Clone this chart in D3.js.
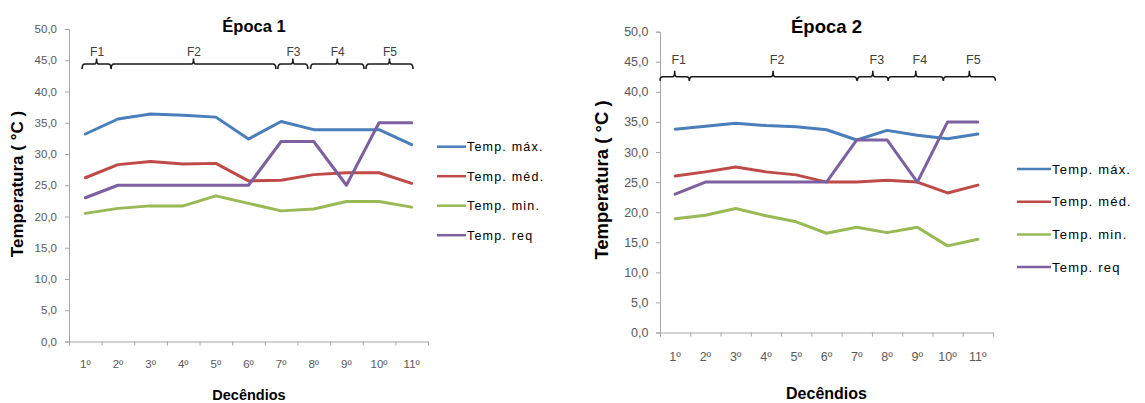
<!DOCTYPE html>
<html><head><meta charset="utf-8">
<script src="https://cdn.jsdelivr.net/npm/d3@7"></script>
<style>
html,body{margin:0;padding:0;background:#fff;}
svg{display:block;font-family:"Liberation Sans",Arial,sans-serif;}
</style></head>
<body>
<svg id="chart" width="1145" height="403"></svg>
<script>
// ---- data ----
const categories = ["1º","2º","3º","4º","5º","6º","7º","8º","9º","10º","11º"];
const yTickValues = [0,5,10,15,20,25,30,35,40,45,50];
const seriesNames = ["Temp. máx.","Temp. méd.","Temp. min.","Temp. req"];
const seriesColors = ["#4A7EBB","#BE4B48","#98B954","#7D60A0"];

const ep1Max = [33.2,35.6,36.4,36.2,35.9,32.4,35.2,33.9,33.9,33.9,31.5];
const ep1Med = [26.2,28.3,28.8,28.4,28.5,25.7,25.8,26.7,27.0,27.0,25.3];
const ep1Min = [20.5,21.3,21.7,21.7,23.3,22.1,20.9,21.2,22.4,22.4,21.5];
const ep1Req = [23.0,25.0,25.0,25.0,25.0,25.0,32.0,32.0,25.0,35.0,35.0];

const ep2Max = [33.8,34.3,34.8,34.4,34.2,33.7,32.0,33.6,32.8,32.2,33.0];
const ep2Med = [26.0,26.7,27.5,26.7,26.2,25.0,25.0,25.3,25.0,23.2,24.5];
const ep2Min = [18.9,19.5,20.6,19.4,18.4,16.5,17.5,16.6,17.5,14.4,15.5];
const ep2Req = [23.0,25.0,25.0,25.0,25.0,25.0,32.0,32.0,25.0,35.0,35.0];

const phaseLabels = ["F1","F2","F3","F4","F5"];
// phase bracket extents, in category-axis units (0 = left edge, 11 = right edge)
const ep1PhaseStart = [0.40,1.29,6.40,7.40,9.10];
const ep1PhaseEnd   = [1.29,6.34,7.32,9.04,10.54];
const ep2PhaseStart = [0.00,0.97,6.52,7.54,9.36];
const ep2PhaseEnd   = [0.97,6.50,7.54,9.36,11.08];

const svg = d3.select("#chart");

function drawChart(cfg){
  const g = svg.append("g");
  const x = d3.scaleLinear().domain([0, categories.length]).range([cfg.x0, cfg.x1]);
  const y = d3.scaleLinear().domain([0,50]).range([cfg.yb, cfg.yt]);

  // y axis
  const yAxis = d3.axisLeft(y).tickValues(yTickValues).tickSize(4)
      .tickFormat(d => d3.format(".1f")(d).replace(".", ","));
  const ya = g.append("g").attr("transform", `translate(${cfg.x0},0)`).call(yAxis);
  ya.select(".domain").attr("stroke", "#A6A6A6");
  ya.selectAll(".tick line").attr("stroke", "#A6A6A6");
  ya.selectAll(".tick text").attr("fill", "#595959").attr("x", -cfg.yLabelGap)
    .style("font-size", cfg.tickFont + "px");

  // x axis
  const xb = d3.scaleBand().domain(categories).range([cfg.x0, cfg.x1]);
  const xAxis = d3.axisBottom(x).tickValues(d3.range(0, categories.length + 1)).tickSize(4).tickFormat("");
  const xa = g.append("g").attr("transform", `translate(0,${cfg.yb})`).call(xAxis);
  xa.select(".domain").attr("stroke", "#A6A6A6");
  xa.selectAll(".tick line").attr("stroke", "#A6A6A6");
  g.append("g").selectAll("text").data(categories).join("text")
    .attr("x", d => xb(d) + xb.bandwidth()/2)
    .attr("y", cfg.xLabelY)
    .attr("text-anchor", "middle")
    .attr("fill", "#595959")
    .style("font-size", cfg.tickFont + "px")
    .text(d => d);

  // series lines
  const line = d3.line().x((d,i) => x(i + 0.5)).y(d => y(d));
  cfg.series.forEach((s, k) => {
    g.append("path").datum(s).attr("d", line)
      .attr("fill", "none").attr("stroke", seriesColors[k])
      .attr("stroke-width", 3).attr("stroke-linejoin", "round").attr("stroke-linecap", "round");
  });

  // phase brackets
  const by = cfg.bracketY, hd = cfg.hookDown, hu = cfg.hookUp;
  phaseLabels.forEach((lab, i) => {
    const a = x(cfg.pStart[i]), b = x(cfg.pEnd[i]), m = (a + b) / 2;
    const p = d3.path();
    p.moveTo(a, by + hd);
    p.quadraticCurveTo(a, by, a + 3, by);
    p.lineTo(m - 2, by);
    p.quadraticCurveTo(m, by, m, by - hu);
    p.quadraticCurveTo(m, by, m + 2, by);
    p.lineTo(b - 3, by);
    p.quadraticCurveTo(b, by, b, by + hd);
    g.append("path").attr("d", p.toString()).attr("fill", "none")
      .attr("stroke", "#1a1a1a").attr("stroke-width", 1.6);
    g.append("text").attr("x", m + cfg.labelShift).attr("y", cfg.phaseLabelY)
      .attr("text-anchor", "middle").attr("fill", "#404040")
      .style("font-size", cfg.phaseFont + "px").text(lab);
  });

  // title
  g.append("text").attr("x", cfg.titleX).attr("y", cfg.titleY)
    .attr("text-anchor", "middle").attr("font-weight", "bold")
    .style("font-size", cfg.titleFont + "px").attr("fill", "#000").text(cfg.title);

  // axis titles
  g.append("text").attr("transform", `translate(${cfg.yTitleX},${cfg.yTitleY}) rotate(-90)`)
    .attr("text-anchor", "middle").attr("font-weight", "bold")
    .style("font-size", cfg.axisTitleFont + "px").text("Temperatura ( °C )");
  g.append("text").attr("x", cfg.xTitleX).attr("y", cfg.xTitleY)
    .attr("text-anchor", "middle").attr("font-weight", "bold")
    .style("font-size", cfg.xTitleFont + "px").text("Decêndios");

  // legend
  seriesNames.forEach((nm, k) => {
    const ly = cfg.legY0 + k * cfg.legStep;
    g.append("line").attr("x1", cfg.legX).attr("x2", cfg.legX + cfg.legLen)
      .attr("y1", ly).attr("y2", ly).attr("stroke", seriesColors[k]).attr("stroke-width", 2.5);
    g.append("text").attr("x", cfg.legX + cfg.legLen + 1).attr("y", ly)
      .attr("dy", "0.35em").style("font-size", cfg.legFont + "px")
      .style("letter-spacing", cfg.legSpacing + "px").attr("fill", "#000").text(nm);
  });
}

drawChart({
  x0: 69, x1: 428, yb: 341.5, yt: 29,
  series: [ep1Max, ep1Med, ep1Min, ep1Req],
  pStart: ep1PhaseStart, pEnd: ep1PhaseEnd,
  bracketY: 64, hookDown: 5, hookUp: 5.5, phaseLabelY: 56, phaseFont: 12, labelShift: 0.5,
  tickFont: 11.5, yLabelGap: 12, xLabelY: 368,
  title: "Época 1", titleX: 254, titleY: 32, titleFont: 16.5,
  yTitleX: 23, yTitleY: 184, axisTitleFont: 17,
  xTitleX: 249, xTitleY: 400, xTitleFont: 14.5,
  legX: 437, legLen: 29, legY0: 146.7, legStep: 29.5, legFont: 12.5, legSpacing: 1.2
});

drawChart({
  x0: 660, x1: 993, yb: 332.5, yt: 31.7,
  series: [ep2Max, ep2Med, ep2Min, ep2Req],
  pStart: ep2PhaseStart, pEnd: ep2PhaseEnd,
  bracketY: 76.7, hookDown: 4, hookUp: 6, phaseLabelY: 63.5, phaseFont: 12.5, labelShift: 4,
  tickFont: 12.5, yLabelGap: 11.5, xLabelY: 361,
  title: "Época 2", titleX: 826.5, titleY: 33, titleFont: 18.5,
  yTitleX: 608, yTitleY: 180, axisTitleFont: 18.5,
  xTitleX: 826.5, xTitleY: 399, xTitleFont: 16,
  legX: 1017, legLen: 34, legY0: 169, legStep: 32.7, legFont: 13, legSpacing: 1.2
});
</script>
</body></html>
